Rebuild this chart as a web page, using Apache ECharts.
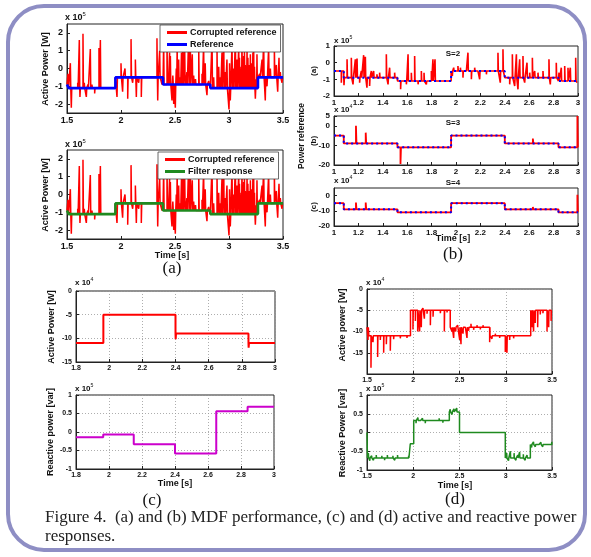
<!DOCTYPE html>
<html><head><meta charset="utf-8">
<script src="https://cdn.jsdelivr.net/npm/echarts@6/dist/echarts.min.js"></script>
<style>html,body{margin:0;padding:0;background:#fff}#c{width:591px;height:557px}</style>
</head><body><div id="c"></div>
<script>
// ---------------- DATA ----------------
// (a) reference steps (x1e5 W)
const aBaseT = [1.5, 1.515, 1.948, 2.389, 2.827, 3.268, 3.5];
const aBaseV = [-0.9, -1.1, -0.5, -0.9, -1.1, -0.5];
// (a) corrupted reference spikes [time, value]
const aSpikes = [
 [1.509,-0.3],[1.531,0.3],[1.540,-2.2],[1.599,-0.8],[1.614,1.6],[1.620,-1.6],[1.648,1.95],[1.660,-0.8],
 [1.679,-1.6],[1.694,-0.9],[1.716,1.1],[1.731,-0.9],[1.756,-1.4],[1.796,1.15],[1.809,1.6],[1.824,-1.0],
 [1.963,-1.6],[1.978,-0.6],[2.000,0.3],[2.015,-1.3],[2.037,0.0],[2.062,-1.7],[2.093,1.65],[2.108,-0.8],
 [2.133,0.5],[2.142,-1.6],[2.164,-0.8],[2.188,-1.6],[2.210,-0.6],[2.300,-0.4],[2.333,1.7],[2.340,-1.8],
 [2.358,1.0],[2.380,-0.9],[2.395,1.5],[2.426,1.8],[2.435,-0.3],[2.45,0.9],[2.457,0.7],[2.472,-1.8],
 [2.48,-0.4],[2.488,-2.0],[2.503,-2.2],[2.512,0.0],[2.52,1.2],[2.534,0.5],[2.549,-0.5],[2.56,0.9],
 [2.574,1.6],[2.59,1.0],[2.596,-0.4],[2.61,-0.2],[2.627,1.9],[2.642,1.3],[2.66,0.8],[2.673,-0.4],
 [2.69,-0.6],[2.72,1.0],[2.75,-0.3],[2.765,1.4],[2.78,0.3],[2.796,-1.5],[2.812,-0.7],[2.843,1.7],
 [2.858,-0.5],[2.889,1.2],[2.905,0.1],[2.920,-0.5],[2.935,0.9],[2.951,1.8],[2.965,-0.2],[2.981,0.5],
 [3.000,-2.3],[3.005,0.3],[3.012,-1.8],[3.028,1.5],[3.035,-0.6],[3.043,0.0],[3.059,2.0],[3.067,-0.4],
 [3.074,0.5],[3.090,1.3],[3.097,0.6],[3.105,-0.3],[3.113,0.1],[3.120,1.7],[3.128,-0.2],[3.136,0.7],
 [3.143,1.0],[3.151,0.2],[3.159,-0.3],[3.167,1.1],[3.175,0.6],[3.182,-0.5],[3.19,0.2],[3.198,0.8],
 [3.206,-0.4],[3.213,0.3],[3.221,0.9],[3.228,1.4],[3.236,0.1],[3.244,-1.7],[3.252,-0.6],[3.259,0.8],
 [3.284,-0.3],[3.306,0.5],[3.321,1.6],[3.336,-1.8],[3.352,-1.0],[3.367,1.2],[3.383,0.0],[3.398,-0.5],
 [3.420,1.3],[3.438,0.2],[3.451,-1.3],[3.463,0.6],[3.475,-0.2],[3.491,-0.8]
];
// (b) reference steps
const bBaseT = [1.0, 1.08, 1.52, 1.96, 2.4, 2.84, 3.0];
const bBaseV5 = [-0.5, -0.9, -1.1, -0.5, -0.9, -1.1];   // x1e5
const bBaseV4 = [-5, -9, -11, -5, -9, -11];             // x1e4
const bSpikesS2 = [
 [1.060,-1.2],[1.082,-1.35],[1.107,0.2],[1.142,0.3],[1.156,-1.3],[1.175,0.2],[1.189,0.25],[1.210,-1.2],
 [1.224,-0.5],[1.243,0.45],[1.257,0.35],[1.270,-1.5],[1.292,-1.4],[1.306,-0.5],[1.325,-0.5],[1.352,-0.7],
 [1.374,-0.6],[1.429,0.5],[1.443,-1.3],[1.456,-0.3],[1.497,-0.6],[1.546,-1.6],[1.593,-1.3],[1.607,0.5],
 [1.634,-0.6],[1.661,0.4],[1.689,-1.3],[1.716,-0.5],[1.738,-0.6],[1.757,-1.3],[1.798,-0.5],[1.811,0.2],
 [1.828,0.2],[1.970,-0.8],[1.981,-0.3],[2.016,-0.2],[2.036,-0.3],[2.057,-0.9],[2.085,-0.6],[2.098,0.6],
 [2.126,-1.0],[2.153,-0.3],[2.180,-0.5],[2.194,-1.0],[2.249,-0.7],[2.344,0.6],[2.363,-1.2],[2.385,0.8],
 [2.440,-1.3],[2.462,0.5],[2.481,-1.4],[2.495,0.5],[2.508,-1.6],[2.522,0.2],[2.549,0.4],[2.563,-1.2],
 [2.582,0.0],[2.604,-0.6],[2.626,0.3],[2.645,-0.5],[2.672,-0.6],[2.713,-0.5],[2.762,0.2],[2.773,-1.3],
 [2.822,0.0],[2.844,-0.6],[2.863,-0.3],[2.891,-0.2],[2.918,-0.3],[2.937,-0.3],[2.945,-1.2],[2.981,0.3],
 [2.992,-1.2]
];
const bSpikesS3 = [[1.18,0],[1.26,-3.5],[1.545,-19.5],[2.63,-6.5],[2.995,5]];
const bSpikesS4 = [[1.18,-4.5],[1.26,-4.5],[2.63,-7.5],[2.995,0.5]];
// (c) active power (x1e4 W) and reactive power (x1e5 var)
const cPT = [1.8, 1.965, 2.4, 2.84, 3.0];
const cPV = [-11, -5, -9, -11];
const cPSpikes = [[2.401,-10.2],[2.841,-12]];
const cQT = [1.8, 1.965, 2.15, 2.4, 2.65, 2.84, 3.0];
const cQV = [-0.14, -0.07, -0.33, -0.58, 0.56, 0.68];
// (d) active power (x1e4 W)
const dPT = [1.5, 1.52, 1.97, 2.4, 2.83, 3.27, 3.5];
const dPV = [-9, -11, -5, -9, -11, -5];
const dPSpikes = [
 [1.511,-12],[1.543,-18.5],[1.565,-12.5],[1.615,-16],[1.644,-12],[1.680,-15],[1.709,-13],[1.752,-14.5],
 [1.788,-11.8],[1.860,-11.6],[1.932,-11.5],[1.997,-9.5],[2.023,-7.5],[2.048,-10],[2.069,-10],[2.087,-9],
 [2.105,-4.5],[2.120,-7],[2.149,-5.8],[2.185,-8.5],[2.214,-6.5],[2.257,-4.6],[2.293,-5.7],[2.336,-10],
 [2.365,-5.5],[2.419,-10],[2.437,-11.5],[2.459,-10],[2.480,-8.5],[2.502,-12],[2.516,-13],[2.538,-10.5],
 [2.563,-8.7],[2.581,-11.5],[2.599,-9.8],[2.624,-8.2],[2.653,-9.6],[2.689,-8.5],[2.725,-9.5],[2.754,-8.5],
 [2.797,-9.4],[2.826,-12.5],[2.851,-11.7],[2.887,-10.5],[2.934,-11.5],[2.970,-10.6],[2.995,-14.8],[3.013,-15],
 [3.042,-12],[3.085,-11.6],[3.140,-10.6],[3.194,-11.4],[3.247,-10.7],[3.283,-9],[3.301,-10],[3.319,-8],
 [3.345,-9],[3.373,-6],[3.402,-5.7],[3.446,-10],[3.464,-9],[3.490,-7.5]
];
// (d) reactive power (x1e5 var)
const dQT = [1.5, 1.505, 1.968, 2.005, 2.39, 2.5, 2.995, 3.266, 3.5];
const dQV = [0, -0.68, -0.3, 0.32, 0.55, 0.0, -0.68, -0.32];
const dQSpikes = [
 [1.515,-0.55],[1.53,-0.75],[1.55,-0.62],[1.57,-0.74],[1.6,-0.6],[1.63,-0.72],[1.66,-0.62],[1.69,-0.74],
 [1.72,-0.6],[1.75,-0.72],[1.78,-0.62],[1.8,-0.74],[1.83,-0.6],[1.86,-0.7],[1.89,-0.63],[1.92,-0.72],[1.95,-0.62],
 [2.03,0.25],[2.05,0.4],[2.08,0.27],[2.1,0.38],[2.13,0.25],[2.16,0.36],[2.2,0.27],[2.24,0.35],[2.28,0.38],
 [2.32,0.26],[2.36,0.36],[2.4,0.62],[2.42,0.48],[2.44,0.63],[2.46,0.5],[2.47,0.65],[2.485,0.5],
 [2.55,0.03],[2.6,-0.03],[2.65,0.03],[2.7,-0.03],[2.75,0.03],[2.8,-0.02],[2.85,0.03],[2.9,-0.03],[2.95,0.03],
 [3.01,-0.55],[3.03,-0.75],[3.05,-0.5],[3.07,-0.72],[3.09,-0.55],[3.11,-0.74],[3.13,-0.6],[3.15,-0.52],
 [3.17,-0.72],[3.19,-0.58],[3.21,-0.74],[3.23,-0.6],[3.25,-0.7],
 [3.28,-0.4],[3.3,-0.25],[3.32,-0.38],[3.34,-0.27],[3.36,-0.36],[3.38,-0.26],[3.4,-0.38],[3.42,-0.28],
 [3.44,-0.35],[3.46,-0.27],[3.48,-0.37],[3.497,-0.25]
];

// ---------------- BUILDERS ----------------
function stepLine(T, V) {
  const p = [];
  for (let i = 0; i < V.length; i++) { p.push([T[i], V[i]], [T[i+1], V[i]]); }
  return p;
}
function spikyLine(T, V, S, w) {
  const s = S.slice().sort((a,b)=>a[0]-b[0]);
  const p = [];
  for (let i = 0; i < V.length; i++) {
    p.push([T[i], V[i]]);
    const last = i === V.length - 1;
    s.forEach(([t, v]) => {
      if (t >= T[i] && (t < T[i+1] || (last && t <= T[i+1]))) {
        p.push([t, V[i]], [t, v], [t + w, v], [t + w, V[i]]);
      }
    });
    p.push([T[i+1], V[i]]);
  }
  return p;
}

const FONT = 'Liberation Sans';
const grids = [
  {left:67, top:24, width:216, height:89},
  {left:67, top:150, width:216, height:89},
  {left:334, top:46, width:244, height:50},
  {left:334, top:116, width:244, height:49},
  {left:334, top:188, width:244, height:38},
  {left:76, top:291, width:199, height:71},
  {left:76, top:395, width:198, height:74},
  {left:367, top:289, width:185, height:85},
  {left:367, top:395, width:185, height:75}
].map(g => Object.assign({show:true, borderColor:'#222', borderWidth:1, backgroundColor:'#fff', containLabel:false}, g));

function xAx(gi, min, max, interval, fs, dotted) {
  return {type:'value', gridIndex:gi, min, max, interval,
    axisLine:{show:true, onZero:false, lineStyle:{color:'#222', width:1}},
    axisTick:{show:true, inside:true, length:3, lineStyle:{color:'#222'}},
    axisLabel:{show:true, margin:3, fontSize:fs, fontWeight:'bold', fontFamily:FONT, color:'#111', hideOverlap:false},
    splitLine:{show:!!dotted, lineStyle:{color:'#999', type:[1,2], width:0.8}}};
}
function yAx(gi, min, max, interval, fs, dotted) {
  return {type:'value', gridIndex:gi, min, max, interval,
    axisLine:{show:true, onZero:false, lineStyle:{color:'#222', width:1}},
    axisTick:{show:true, inside:true, length:3, lineStyle:{color:'#222'}},
    axisLabel:{show:true, margin:4, fontSize:fs, fontWeight:'bold', fontFamily:FONT, color:'#111', hideOverlap:false},
    splitLine:{show:!!dotted, lineStyle:{color:'#999', type:[1,2], width:0.8}}};
}

const xAxes = [
  xAx(0,1.5,3.5,0.5,9), xAx(1,1.5,3.5,0.5,9),
  xAx(2,1,3,0.2,8), xAx(3,1,3,0.2,8), xAx(4,1,3,0.2,8),
  xAx(5,1.8,3,0.2,7,true), xAx(6,1.8,3,0.2,7,true),
  xAx(7,1.5,3.5,0.5,7,true), xAx(8,1.5,3.5,0.5,7,true)
];
const aTicks = [-2,-1,0,1,2];
const yAxes = [
  yAx(0,-2.5,2.5,undefined,9), yAx(1,-2.5,2.5,undefined,9),
  yAx(2,-2,1,1,8), yAx(3,-20,5,10,8), yAx(4,-20,5,10,8),
  yAx(5,-15,0,5,7,true), yAx(6,-1,1,0.5,7,true),
  yAx(7,-20,0,5,7,true), yAx(8,-1,1,0.5,7,true)
];
[0,1].forEach(i => {
  yAxes[i].axisLabel.customValues = aTicks;
  yAxes[i].axisTick.customValues = aTicks;
});
yAxes[7].axisLabel.showMinLabel = false;

function ln(name, gi, data, color, width, type, z) {
  return {name, type:'line', xAxisIndex:gi, yAxisIndex:gi, data, showSymbol:false, symbol:'none',
    animation:false, clip:true, z:z||2,
    lineStyle:{color, width, type:type||'solid'}, itemStyle:{color}};
}
const RED = '#ff0000', BLUE = '#0000ff', GREEN = '#1f8a1f', MAG = '#cc00cc';
const series = [
  ln('Corrupted reference', 0, spikyLine(aBaseT, aBaseV, aSpikes, 0.004), RED, 1.5),
  ln('Reference', 0, stepLine(aBaseT, aBaseV), BLUE, 2.6, 'solid', 3),
  ln('Corrupted reference', 1, spikyLine(aBaseT, aBaseV, aSpikes, 0.004), RED, 1.5),
  ln('Filter response', 1, stepLine(aBaseT, aBaseV), GREEN, 2.6, 'solid', 3),
  ln('s2c', 2, spikyLine(bBaseT, bBaseV5, bSpikesS2, 0.003), RED, 1.6),
  ln('s2r', 2, stepLine(bBaseT, bBaseV5), BLUE, 2, [2,3], 3),
  ln('s3c', 3, spikyLine(bBaseT, bBaseV4, bSpikesS3, 0.004), RED, 1.8),
  ln('s3r', 3, stepLine(bBaseT, bBaseV4), BLUE, 2, [2,3], 3),
  ln('s4c', 4, spikyLine(bBaseT, bBaseV4, bSpikesS4, 0.004), RED, 1.8),
  ln('s4r', 4, stepLine(bBaseT, bBaseV4), BLUE, 2, [2,3], 3),
  ln('cP', 5, spikyLine(cPT, cPV, cPSpikes, 0.002), RED, 2),
  ln('cQ', 6, stepLine(cQT, cQV), MAG, 2),
  ln('dP', 7, spikyLine(dPT, dPV, dPSpikes, 0.003), RED, 1.5),
  ln('dQ', 8, spikyLine(dQT, dQV, dQSpikes, 0.003), GREEN, 1.5)
];

// ---------------- TEXT ----------------
const g = [];
function txt(x, y, text, size, opts) {
  opts = opts || {};
  g.push({type:'text', x, y, rotation: opts.rot ? Math.PI/2 : 0, z:100,
    style:{text, fontSize:size, fontWeight: opts.w || 'bold', fontFamily: opts.f || FONT,
      fill: opts.c || '#111', textAlign: opts.a || 'center', textVerticalAlign:'middle',
      align: opts.a || 'center', verticalAlign:'middle'}});
}
function expo(x, y, e, size) {
  txt(x, y, 'x 10', size, {a:'left'});
  txt(x + size*1.95, y - size*0.45, e, size*0.65, {a:'left', w:'normal'});
}
// (a)
expo(65, 18, '5', 9); expo(65, 145, '5', 9);
txt(46, 69, 'Active Power [W]', 9, {rot:true});
txt(46, 195, 'Active Power [W]', 9, {rot:true});
txt(172, 256, 'Time [s]', 9);
txt(172, 269, '(a)', 17, {w:'normal', f:'Liberation Serif'});
// (b)
expo(334, 41, '5', 8); expo(334, 110, '4', 8); expo(334, 181, '4', 8);
txt(314, 71, '(a)', 8, {rot:true}); txt(314, 141, '(b)', 8, {rot:true}); txt(314, 207, '(c)', 8, {rot:true});
txt(302, 136, 'Power reference', 8.5, {rot:true});
txt(453, 54, 'S=2', 8); txt(453, 123, 'S=3', 8); txt(453, 183, 'S=4', 8);
txt(453, 239, 'Time [s]', 9);
txt(453, 255, '(b)', 17, {w:'normal', f:'Liberation Serif'});
// (c)
expo(75, 283, '4', 8); expo(75, 389, '5', 8);
txt(52, 327, 'Active Power [W]', 9, {rot:true});
txt(51, 432, 'Reactive power [var]', 9, {rot:true});
txt(175, 484, 'Time [s]', 9);
txt(152, 501, '(c)', 17, {w:'normal', f:'Liberation Serif'});
// (d)
expo(366, 283, '4', 8); expo(366, 389, '5', 8);
txt(343, 325, 'Active power [W]', 9, {rot:true});
txt(343, 433, 'Reactive Power [var]', 9, {rot:true});
txt(455, 486, 'Time [s]', 9);
txt(455, 500, '(d)', 17, {w:'normal', f:'Liberation Serif'});
// caption
txt(45, 518, 'Figure 4.  (a) and (b) MDF performance, (c) and (d) active and reactive power', 17, {a:'left', w:'normal', f:'Liberation Serif', c:'#222'});
txt(45, 537, 'responses.', 17, {a:'left', w:'normal', f:'Liberation Serif', c:'#222'});
// border
g.push({type:'rect', z:0, shape:{x:8, y:6, width:577, height:544, r:36},
  style:{fill:'none', stroke:'#8e8ec4', lineWidth:4}});

const legendBase = {orient:'vertical', itemWidth:20, itemHeight:3, itemGap:3, icon:'rect',
  backgroundColor:'#fff', borderColor:'#444', borderWidth:0.8, padding:[3,4,3,7], selectedMode:false,
  textStyle:{fontSize:9, fontWeight:'bold', fontFamily:FONT, color:'#111', padding:[0,0,0,-2]}};

const chart = echarts.init(document.getElementById('c'), null, {renderer:'canvas'});
chart.setOption({
  animation:false,
  backgroundColor:'#fff',
  grid: grids,
  xAxis: xAxes,
  yAxis: yAxes,
  legend: [
    Object.assign({}, legendBase, {left:160, top:25, data:['Corrupted reference','Reference']}),
    Object.assign({}, legendBase, {left:158, top:152, data:['Corrupted reference','Filter response']})
  ],
  graphic: g,
  series
});
</script></body></html>
